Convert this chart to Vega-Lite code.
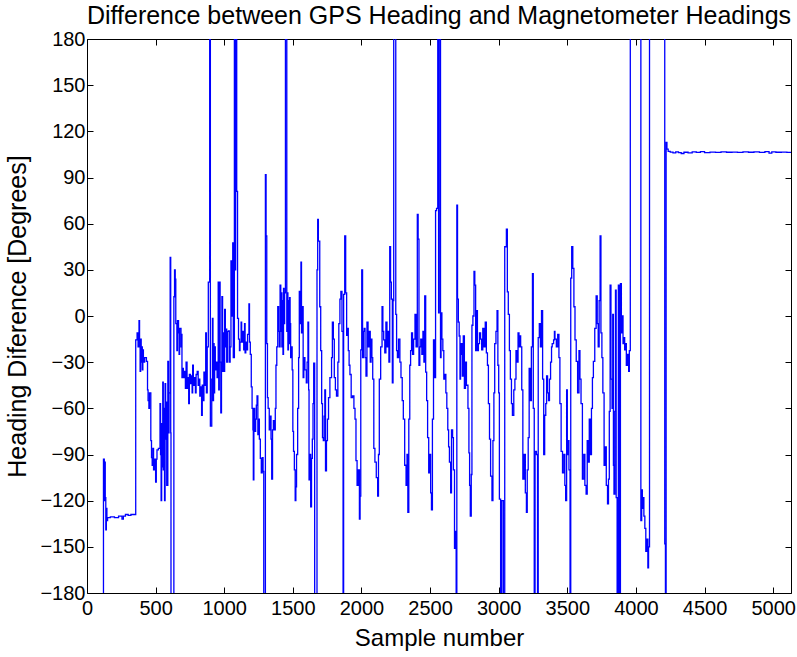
{
"$schema": "https://vega.github.io/schema/vega-lite/v6.json",
"width": 704, "height": 554,
"autosize": {"type": "none"},
"padding": {"left": 87, "top": 39, "right": 6, "bottom": 64},
"background": "white",
"title": {"text": "Difference between GPS Heading and Magnetometer Headings", "font": "Liberation Sans", "fontSize": 25, "fontWeight": "normal", "color": "#000", "anchor": "middle", "baseline": "alphabetic", "offset": 5, "dy": 25, "frame": "group"},
"config": {"view": {"stroke": null}, "axis": {"labelFont": "Liberation Sans", "titleFont": "Liberation Sans", "labelColor": "#000", "titleColor": "#000", "domainColor": "#000", "tickColor": "#000", "grid": false, "labelFontSize": 20, "titleFontSize": 24, "titleFontWeight": "normal", "domainWidth": 1, "tickWidth": 1}},
"data": {"values": [
{"sample":118,"deg":-200},{"sample":120,"deg":-93},{"sample":126,"deg":-120},{"sample":129,"deg":-95},{"sample":133,"deg":-118},{"sample":137,"deg":-139},{"sample":141,"deg":-125},{"sample":145,"deg":-133},{"sample":150,"deg":-131},{"sample":170,"deg":-130.5},{"sample":200,"deg":-131},{"sample":230,"deg":-130},{"sample":255,"deg":-132},{"sample":265,"deg":-130},{"sample":280,"deg":-129},{"sample":300,"deg":-129.5},{"sample":320,"deg":-129},{"sample":340,"deg":-129},
{"sample":355,"deg":-15.5},{"sample":365,"deg":-11},{"sample":372,"deg":-20},{"sample":379,"deg":-3},{"sample":383,"deg":-20},{"sample":387,"deg":-36},{"sample":391,"deg":-15},{"sample":395,"deg":-30},{"sample":399,"deg":-20},{"sample":403,"deg":-35},{"sample":407,"deg":-22},{"sample":411,"deg":-30},{"sample":420,"deg":-27},{"sample":433,"deg":-29.5},{"sample":441,"deg":-48},{"sample":445,"deg":-55},{"sample":451,"deg":-60},{"sample":455,"deg":-50},{"sample":465,"deg":-81},{"sample":470,"deg":-92},{"sample":475,"deg":-97},{"sample":480,"deg":-86},{"sample":485,"deg":-100},{"sample":492,"deg":-93},{"sample":500,"deg":-108},{"sample":505,"deg":-93},{"sample":510,"deg":-87},{"sample":520,"deg":-86},
{"sample":532,"deg":-57},{"sample":536,"deg":-90},{"sample":540,"deg":-120},{"sample":544,"deg":-70},{"sample":548,"deg":-98},{"sample":552,"deg":-43},{"sample":556,"deg":-100},{"sample":560,"deg":-60},{"sample":565,"deg":-120},{"sample":569,"deg":-44},{"sample":573,"deg":-80},{"sample":577,"deg":-56},{"sample":581,"deg":-110},{"sample":589,"deg":-29.5},{"sample":594,"deg":-76},{"sample":598,"deg":-50},{"sample":606,"deg":38},{"sample":610,"deg":-76},{"sample":612,"deg":-200},
{"sample":633,"deg":12.5},{"sample":638,"deg":30},{"sample":643,"deg":24},{"sample":647,"deg":-5},{"sample":655,"deg":-22.5},{"sample":659,"deg":-3},{"sample":667,"deg":-11},{"sample":671,"deg":-25},{"sample":675,"deg":-8},{"sample":685,"deg":-20},{"sample":689,"deg":-12},{"sample":692,"deg":-40},{"sample":697,"deg":-34},{"sample":702,"deg":-40},{"sample":710,"deg":-36},{"sample":717,"deg":-47},{"sample":722,"deg":-30},{"sample":729,"deg":-47},{"sample":735,"deg":-40},{"sample":741,"deg":-57},{"sample":746,"deg":-38},{"sample":754,"deg":-44},{"sample":761,"deg":-39},{"sample":766,"deg":-50},{"sample":770,"deg":-32},{"sample":775,"deg":-45},{"sample":782,"deg":-40},{"sample":790,"deg":-50},{"sample":795,"deg":-38},{"sample":803,"deg":-36},{"sample":810,"deg":-45},{"sample":815,"deg":-41},{"sample":822,"deg":-52},{"sample":828,"deg":-46},{"sample":835,"deg":-64.5},{"sample":840,"deg":-45},{"sample":846,"deg":-55},{"sample":852,"deg":-36.5},{"sample":860,"deg":-45},{"sample":865,"deg":-11},{"sample":870,"deg":-50},{"sample":876,"deg":-20},{"sample":884,"deg":22},{"sample":894,"deg":200},{"sample":899,"deg":-71.5},
{"sample":909,"deg":-41},{"sample":914,"deg":-1.5},{"sample":918,"deg":-55},{"sample":922,"deg":-18},{"sample":926,"deg":-50},{"sample":930,"deg":-20},{"sample":935,"deg":-35},{"sample":942,"deg":-30},{"sample":948,"deg":-40},{"sample":956,"deg":22},{"sample":960,"deg":-48},{"sample":964,"deg":22},{"sample":970,"deg":-30},{"sample":975,"deg":-63},{"sample":980,"deg":-30},{"sample":983,"deg":12.5},{"sample":988,"deg":-36},{"sample":993,"deg":-11},{"sample":998,"deg":-36},{"sample":1003,"deg":4.3},{"sample":1008,"deg":-20},{"sample":1013,"deg":-8.5},{"sample":1018,"deg":-30},{"sample":1024,"deg":-10},{"sample":1032,"deg":-9.7},{"sample":1037,"deg":-30},{"sample":1043,"deg":-20},{"sample":1049,"deg":35.8},{"sample":1055,"deg":0},{"sample":1062,"deg":47.5},{"sample":1066,"deg":-27},{"sample":1074,"deg":200},{"sample":1080,"deg":30},{"sample":1083,"deg":200},{"sample":1091,"deg":81},{"sample":1097,"deg":-1.5},
{"sample":1104,"deg":-15},{"sample":1111,"deg":-22.5},{"sample":1115,"deg":-17},{"sample":1123,"deg":-4},{"sample":1127,"deg":-17},{"sample":1135,"deg":-10},{"sample":1142,"deg":-22},{"sample":1148,"deg":-5},{"sample":1152,"deg":-24},{"sample":1157,"deg":-17},{"sample":1162,"deg":-22},{"sample":1170,"deg":-12},{"sample":1180,"deg":7.8},{"sample":1184,"deg":-17},{"sample":1190,"deg":-25},{"sample":1197,"deg":-46},{"sample":1203,"deg":-60},{"sample":1209,"deg":-74},{"sample":1212,"deg":-106.5},{"sample":1216,"deg":-60},{"sample":1222,"deg":-75},{"sample":1229,"deg":-67},{"sample":1234,"deg":-58},{"sample":1239,"deg":-52},{"sample":1245,"deg":-77},{"sample":1250,"deg":-67},{"sample":1256,"deg":-80},{"sample":1263,"deg":-92.5},{"sample":1270,"deg":-102},{"sample":1277,"deg":-92},{"sample":1283,"deg":-101},{"sample":1288,"deg":-200},
{"sample":1300,"deg":91.8},{"sample":1305,"deg":52},{"sample":1310,"deg":-18},{"sample":1315,"deg":-53},{"sample":1320,"deg":-60},{"sample":1328,"deg":-74},{"sample":1335,"deg":-65},{"sample":1341,"deg":-80},{"sample":1346,"deg":-106},{"sample":1352,"deg":-74},{"sample":1358,"deg":-68},{"sample":1365,"deg":-74},{"sample":1372,"deg":-60},{"sample":1377,"deg":-32},{"sample":1383,"deg":-20},{"sample":1390,"deg":6},{"sample":1396,"deg":-10},{"sample":1402,"deg":-20},{"sample":1407,"deg":20},{"sample":1412,"deg":-10},{"sample":1416,"deg":15},{"sample":1420,"deg":-20},{"sample":1424,"deg":10},{"sample":1428,"deg":-25},{"sample":1432,"deg":18},{"sample":1436,"deg":-5},{"sample":1440,"deg":15},{"sample":1446,"deg":200},{"sample":1456,"deg":-10},{"sample":1460,"deg":15},{"sample":1464,"deg":-22},{"sample":1468,"deg":10},{"sample":1472,"deg":-18},{"sample":1476,"deg":12},{"sample":1480,"deg":-5},{"sample":1484,"deg":-27},{"sample":1488,"deg":-20},{"sample":1495,"deg":-35},
{"sample":1500,"deg":-75},{"sample":1505,"deg":-88},{"sample":1511,"deg":-100},{"sample":1517,"deg":-120},{"sample":1522,"deg":-111},{"sample":1527,"deg":-90},{"sample":1535,"deg":-60},{"sample":1542,"deg":-27},{"sample":1547,"deg":16},{"sample":1553,"deg":-5},{"sample":1559,"deg":35},{"sample":1563,"deg":-11},{"sample":1569,"deg":6},{"sample":1575,"deg":-40},{"sample":1580,"deg":-27},{"sample":1588,"deg":-35},{"sample":1598,"deg":-43.5},{"sample":1604,"deg":-30},{"sample":1610,"deg":-4},{"sample":1615,"deg":-48},{"sample":1618,"deg":-106.5},{"sample":1624,"deg":-90},{"sample":1630,"deg":-124},{"sample":1636,"deg":-92.5},{"sample":1642,"deg":-80},{"sample":1647,"deg":-57},{"sample":1652,"deg":-30.7},{"sample":1659,"deg":-200},
{"sample":1676,"deg":30},{"sample":1681,"deg":62.7},{"sample":1686,"deg":48.7},{"sample":1696,"deg":6},{"sample":1703,"deg":-22.5},{"sample":1710,"deg":-57},{"sample":1716,"deg":-79},{"sample":1722,"deg":-81},{"sample":1728,"deg":-65},{"sample":1733,"deg":-48},{"sample":1738,"deg":-100.6},{"sample":1745,"deg":-81},{"sample":1752,"deg":-67},{"sample":1760,"deg":-53},{"sample":1770,"deg":-40},{"sample":1782,"deg":-27},{"sample":1788,"deg":-4},{"sample":1795,"deg":-15},{"sample":1802,"deg":-40},{"sample":1810,"deg":-48},{"sample":1818,"deg":-52},{"sample":1828,"deg":-30},{"sample":1835,"deg":-5},{"sample":1843,"deg":11},{"sample":1850,"deg":16},{"sample":1858,"deg":-10},{"sample":1866,"deg":-200},{"sample":1870,"deg":14},{"sample":1878,"deg":52},{"sample":1885,"deg":15},{"sample":1892,"deg":-12.6},{"sample":1898,"deg":-8},
{"sample":1904,"deg":-22.5},{"sample":1910,"deg":-32},{"sample":1916,"deg":-38},{"sample":1925,"deg":-53},{"sample":1935,"deg":-52},{"sample":1945,"deg":-60},{"sample":1953,"deg":-67},{"sample":1960,"deg":-94},{"sample":1968,"deg":-110},{"sample":1976,"deg":-100},{"sample":1985,"deg":-132},{"sample":1990,"deg":-117},{"sample":1995,"deg":-22},{"sample":2002,"deg":30},{"sample":2008,"deg":-27},{"sample":2014,"deg":-10},{"sample":2020,"deg":-8},{"sample":2026,"deg":-27},{"sample":2033,"deg":-39},{"sample":2040,"deg":-4},{"sample":2048,"deg":-20},{"sample":2056,"deg":-10},{"sample":2064,"deg":-30},{"sample":2070,"deg":-15},{"sample":2076,"deg":-27},{"sample":2082,"deg":-41},{"sample":2090,"deg":-86},{"sample":2098,"deg":-95},
{"sample":2108,"deg":-105},{"sample":2118,"deg":-117},{"sample":2124,"deg":-90},{"sample":2130,"deg":-41},{"sample":2140,"deg":-20},{"sample":2150,"deg":6},{"sample":2156,"deg":-10},{"sample":2162,"deg":-15.5},{"sample":2170,"deg":-24},{"sample":2178,"deg":-4},{"sample":2186,"deg":-20},{"sample":2194,"deg":-10},{"sample":2200,"deg":-30},{"sample":2206,"deg":45},{"sample":2212,"deg":22},{"sample":2218,"deg":11},{"sample":2225,"deg":-43.5},{"sample":2230,"deg":10},{"sample":2235,"deg":200},{"sample":2250,"deg":1},{"sample":2256,"deg":-22.5},{"sample":2262,"deg":-27},{"sample":2270,"deg":-15},{"sample":2280,"deg":-30},{"sample":2288,"deg":-40},{"sample":2297,"deg":-55},
{"sample":2305,"deg":-67},{"sample":2315,"deg":-97},{"sample":2325,"deg":-110},{"sample":2332,"deg":-90},{"sample":2338,"deg":-127.6},{"sample":2345,"deg":-67},{"sample":2352,"deg":-32},{"sample":2358,"deg":-22.5},{"sample":2365,"deg":-11},{"sample":2372,"deg":-25},{"sample":2380,"deg":-15},{"sample":2390,"deg":1},{"sample":2398,"deg":-20},{"sample":2407,"deg":66},{"sample":2413,"deg":50},{"sample":2419,"deg":-32},{"sample":2425,"deg":-20},{"sample":2432,"deg":-15},{"sample":2440,"deg":-25},{"sample":2448,"deg":-10},{"sample":2455,"deg":-30},{"sample":2461,"deg":13},{"sample":2468,"deg":-36.5},{"sample":2475,"deg":-55},{"sample":2482,"deg":-79},{"sample":2490,"deg":-102},{"sample":2498,"deg":-90},
{"sample":2504,"deg":-115},{"sample":2510,"deg":-126},{"sample":2517,"deg":-67},{"sample":2525,"deg":-15.5},{"sample":2532,"deg":-40},{"sample":2540,"deg":68.5},{"sample":2547,"deg":70},{"sample":2556,"deg":200},{"sample":2562,"deg":2},{"sample":2566,"deg":200},{"sample":2576,"deg":-27},{"sample":2580,"deg":2},{"sample":2586,"deg":-15},{"sample":2593,"deg":-22.5},{"sample":2600,"deg":-41},{"sample":2607,"deg":-38},{"sample":2615,"deg":-50},{"sample":2622,"deg":-60},{"sample":2629,"deg":-74},{"sample":2635,"deg":-85},{"sample":2641,"deg":-95},{"sample":2650,"deg":-115},{"sample":2656,"deg":-74},{"sample":2664,"deg":-79},{"sample":2670,"deg":-100},{"sample":2678,"deg":-151},{"sample":2683,"deg":-140},{"sample":2690,"deg":-200},
{"sample":2695,"deg":72},{"sample":2700,"deg":11},{"sample":2706,"deg":-4},{"sample":2712,"deg":-13},{"sample":2718,"deg":-41},{"sample":2722,"deg":-25},{"sample":2727,"deg":-18},{"sample":2735,"deg":-39},{"sample":2742,"deg":-13},{"sample":2750,"deg":-47},{"sample":2758,"deg":-30},{"sample":2765,"deg":-45},{"sample":2776,"deg":-60},{"sample":2783,"deg":-89},{"sample":2788,"deg":-110},{"sample":2793,"deg":-130},{"sample":2800,"deg":-103},{"sample":2805,"deg":-6},{"sample":2812,"deg":0},{"sample":2820,"deg":29},{"sample":2826,"deg":20},{"sample":2832,"deg":-22.5},{"sample":2837,"deg":3.5},{"sample":2845,"deg":-22.5},{"sample":2852,"deg":-18},{"sample":2860,"deg":-11},{"sample":2868,"deg":-15},{"sample":2876,"deg":-22},{"sample":2884,"deg":-8},{"sample":2893,"deg":-20},
{"sample":2902,"deg":-4},{"sample":2910,"deg":-24},{"sample":2918,"deg":-32},{"sample":2925,"deg":-57},{"sample":2933,"deg":-80},{"sample":2941,"deg":-104},{"sample":2951,"deg":-120},{"sample":2958,"deg":-81},{"sample":2965,"deg":-50},{"sample":2971,"deg":-18},{"sample":2980,"deg":-10},{"sample":2988,"deg":3.5},{"sample":2994,"deg":-32},{"sample":3000,"deg":-50},{"sample":3005,"deg":-119},{"sample":3014,"deg":-200},{"sample":3022,"deg":-120},{"sample":3034,"deg":-200},{"sample":3044,"deg":45},{"sample":3056,"deg":56.5},{"sample":3063,"deg":15.7},{"sample":3070,"deg":1},{"sample":3078,"deg":-22.5},{"sample":3085,"deg":-41},{"sample":3093,"deg":-57},
{"sample":3100,"deg":-64.5},{"sample":3110,"deg":-48},{"sample":3118,"deg":-41},{"sample":3126,"deg":-22.5},{"sample":3134,"deg":-30},{"sample":3141,"deg":-11},{"sample":3148,"deg":-20},{"sample":3154,"deg":-13},{"sample":3160,"deg":-20},{"sample":3168,"deg":-48},{"sample":3176,"deg":-106},{"sample":3185,"deg":-90},{"sample":3194,"deg":-115},{"sample":3202,"deg":-127.6},{"sample":3208,"deg":-100},{"sample":3215,"deg":-79},{"sample":3222,"deg":-34},{"sample":3230,"deg":-55},{"sample":3238,"deg":-20},{"sample":3246,"deg":27.6},{"sample":3252,"deg":-60},{"sample":3259,"deg":-200},{"sample":3265,"deg":-88},{"sample":3275,"deg":-90},{"sample":3283,"deg":-200},{"sample":3288,"deg":-14},{"sample":3296,"deg":-5},
{"sample":3304,"deg":-20},{"sample":3312,"deg":3.5},{"sample":3320,"deg":-41},{"sample":3328,"deg":-90},{"sample":3335,"deg":-64.5},{"sample":3343,"deg":-57},{"sample":3349,"deg":-39},{"sample":3356,"deg":-50},{"sample":3363,"deg":-55},{"sample":3370,"deg":-41},{"sample":3378,"deg":-30},{"sample":3385,"deg":-20},{"sample":3390,"deg":-18},{"sample":3400,"deg":-15.5},{"sample":3406,"deg":-10},{"sample":3410,"deg":-15},{"sample":3420,"deg":-20},{"sample":3430,"deg":-12},{"sample":3439,"deg":-27},{"sample":3446,"deg":-57},{"sample":3455,"deg":-88},{"sample":3465,"deg":-102},{"sample":3475,"deg":-90},{"sample":3482,"deg":-110},{"sample":3488,"deg":-120},{"sample":3495,"deg":-48},
{"sample":3500,"deg":-90},{"sample":3505,"deg":-81},{"sample":3512,"deg":-100},{"sample":3520,"deg":-200},{"sample":3525,"deg":24.6},{"sample":3532,"deg":45},{"sample":3540,"deg":31},{"sample":3548,"deg":6},{"sample":3556,"deg":-15.5},{"sample":3565,"deg":-29.5},{"sample":3575,"deg":-50},{"sample":3585,"deg":-22.5},{"sample":3592,"deg":-41},{"sample":3600,"deg":-57},{"sample":3610,"deg":-106},{"sample":3620,"deg":-90},{"sample":3628,"deg":-110},{"sample":3637,"deg":-115.8},{"sample":3645,"deg":-81},{"sample":3652,"deg":-95},{"sample":3660,"deg":-67},{"sample":3668,"deg":-90},{"sample":3676,"deg":-60},{"sample":3683,"deg":-40},{"sample":3690,"deg":-29.5},
{"sample":3700,"deg":-8},{"sample":3710,"deg":13},{"sample":3718,"deg":-5},{"sample":3725,"deg":-20},{"sample":3732,"deg":10},{"sample":3739,"deg":52},{"sample":3745,"deg":-11},{"sample":3752,"deg":-27},{"sample":3759,"deg":-50},{"sample":3768,"deg":-97},{"sample":3776,"deg":-85},{"sample":3784,"deg":-110},{"sample":3793,"deg":-122},{"sample":3800,"deg":-106},{"sample":3806,"deg":-62},{"sample":3812,"deg":20},{"sample":3818,"deg":-41},{"sample":3826,"deg":-60},{"sample":3831,"deg":1},{"sample":3836,"deg":-97},{"sample":3840,"deg":-115.8},{"sample":3846,"deg":-62},{"sample":3851,"deg":16.8},{"sample":3856,"deg":-118},{"sample":3863,"deg":-200},{"sample":3872,"deg":20},{"sample":3878,"deg":-200},{"sample":3887,"deg":21},{"sample":3894,"deg":-11},
{"sample":3900,"deg":0},{"sample":3906,"deg":-18},{"sample":3912,"deg":-14},{"sample":3918,"deg":-22},{"sample":3923,"deg":-18},{"sample":3930,"deg":-32},{"sample":3938,"deg":-25},{"sample":3947,"deg":-36},{"sample":3952,"deg":-22.5},{"sample":3959,"deg":200},{"sample":4036,"deg":-133},{"sample":4042,"deg":-113},{"sample":4047,"deg":-125},{"sample":4052,"deg":-118},{"sample":4058,"deg":-130},{"sample":4065,"deg":-138},{"sample":4072,"deg":-153},{"sample":4080,"deg":-145},{"sample":4087,"deg":-163.7},{"sample":4092,"deg":-150},{"sample":4099,"deg":200},{"sample":4210,"deg":-148},{"sample":4215,"deg":-200},{"sample":4220,"deg":112.8},{"sample":4226,"deg":108.4},{"sample":4235,"deg":107},
{"sample":4250,"deg":106.5},{"sample":4270,"deg":106},{"sample":4290,"deg":106.6},{"sample":4310,"deg":106.2},{"sample":4330,"deg":105.6},{"sample":4350,"deg":106.4},{"sample":4380,"deg":106},{"sample":4410,"deg":106.6},{"sample":4440,"deg":106.3},{"sample":4470,"deg":106.8},{"sample":4500,"deg":106.2},{"sample":4540,"deg":106.5},{"sample":4580,"deg":106.3},{"sample":4620,"deg":106.7},{"sample":4660,"deg":106.4},{"sample":4700,"deg":106.5},{"sample":4740,"deg":106.3},{"sample":4780,"deg":106.6},{"sample":4820,"deg":106.4},{"sample":4860,"deg":106.7},{"sample":4900,"deg":106.3},{"sample":4940,"deg":106.8},{"sample":4970,"deg":105.8},{"sample":4990,"deg":106.6},{"sample":5020,"deg":106.4},{"sample":5060,"deg":106.5},{"sample":5100,"deg":106.3},{"sample":5130,"deg":106.5}
]},
"layer": [
{"mark": {"type": "line", "interpolate": "step-after", "clip": true, "color": "#0000ff", "strokeWidth": 1.3},
 "encoding": {
  "x": {"field": "sample", "type": "quantitative", "scale": {"domain": [0, 5130], "nice": false, "zero": false},
        "axis": {"orient": "bottom", "title": "Sample number", "format": "d", "values": [0,500,1000,1500,2000,2500,3000,3500,4000,4500,5000], "tickSize": -6, "labelPadding": 11, "titlePadding": 8, "labelFlush": false, "labelOverlap": false}},
  "y": {"field": "deg", "type": "quantitative", "scale": {"domain": [-180, 180], "nice": false, "zero": false},
        "axis": {"orient": "left", "title": "Heading Diference [Degrees]", "titleFontSize": 25, "format": "d", "values": [-180,-150,-120,-90,-60,-30,0,30,60,90,120,150,180], "tickSize": -6, "labelPadding": 8, "titlePadding": 9, "labelFlush": false, "labelOverlap": false}}
 }},
{"mark": {"type": "point", "opacity": 0, "clip": true},
 "encoding": {
  "x": {"field": "sample", "type": "quantitative", "axis": {"orient": "top", "title": null, "labels": false, "values": [0,500,1000,1500,2000,2500,3000,3500,4000,4500,5000], "tickSize": -6}},
  "y": {"field": "deg", "type": "quantitative", "axis": {"orient": "right", "title": null, "labels": false, "values": [-180,-150,-120,-90,-60,-30,0,30,60,90,120,150,180], "tickSize": -6}}
 }}
],
"resolve": {"axis": {"x": "independent", "y": "independent"}}
}
